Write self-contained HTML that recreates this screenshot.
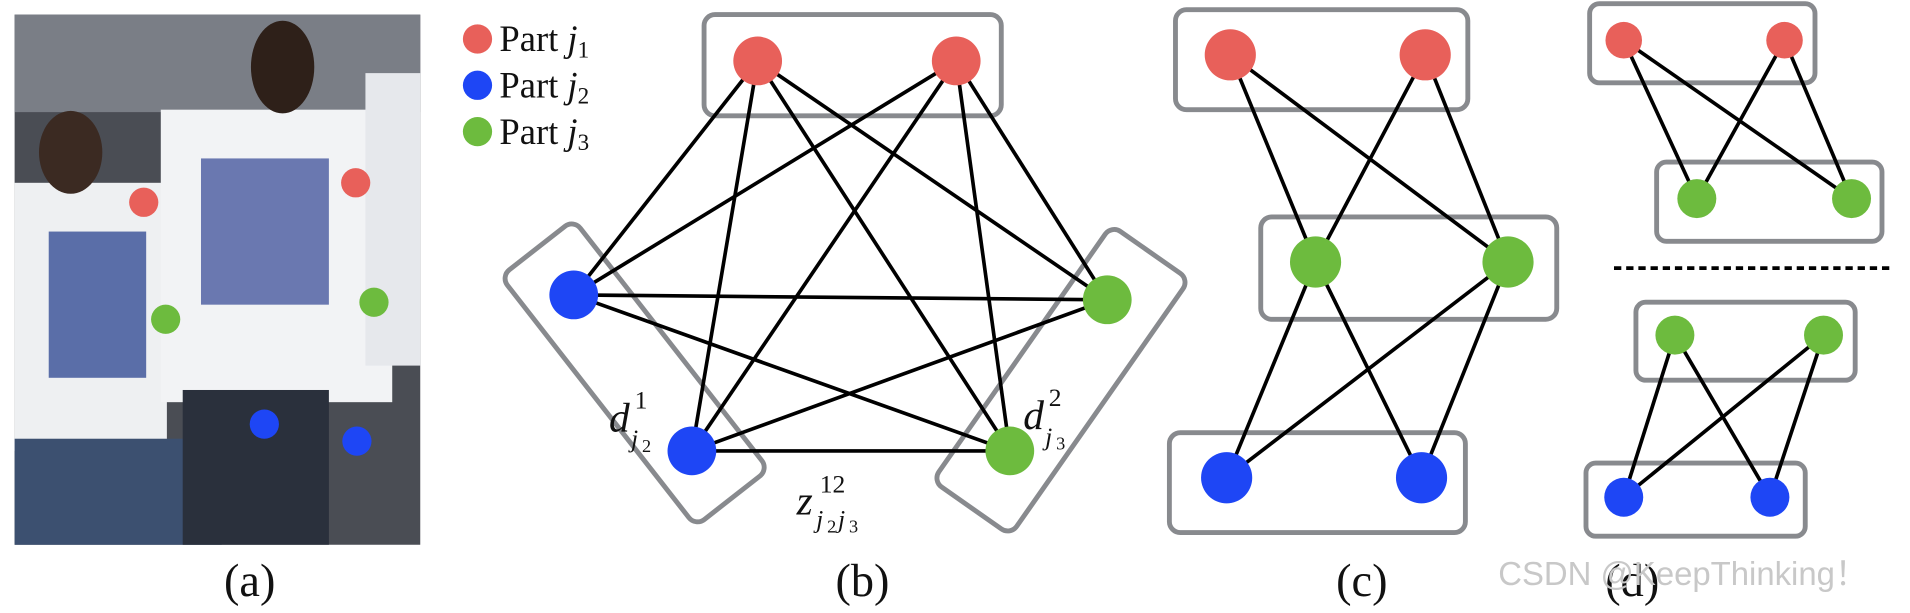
<!DOCTYPE html>
<html><head><meta charset="utf-8"><style>
html,body{margin:0;padding:0;background:#fff;}
svg{display:block;}
text{font-family:"Liberation Serif",serif;fill:#111;}
</style></head><body>
<svg width="1910" height="613" viewBox="0 0 1568 503" preserveAspectRatio="none" xmlns="http://www.w3.org/2000/svg">
<!-- photo -->
<rect x="12" y="12" width="333" height="435" fill="#4a4d54"/>
<rect x="12" y="12" width="333" height="80" fill="#7a7e86"/>
<rect x="12" y="150" width="125" height="220" fill="#eef0f2"/>
<rect x="132" y="90" width="190" height="240" fill="#f2f3f5"/>
<rect x="300" y="60" width="45" height="240" fill="#e6e8ec"/>
<rect x="40" y="190" width="80" height="120" fill="#5a6ea8"/>
<rect x="165" y="130" width="105" height="120" fill="#6a78b0"/>
<rect x="12" y="360" width="170" height="87" fill="#3c5070"/>
<rect x="150" y="320" width="120" height="127" fill="#2a303c"/>
<ellipse cx="58" cy="125" rx="26" ry="34" fill="#3b2a22"/>
<ellipse cx="232" cy="55" rx="26" ry="38" fill="#2e2019"/>
<circle cx="118" cy="166" r="12" fill="#e8605a"/>
<circle cx="292" cy="150" r="12" fill="#e8605a"/>
<circle cx="136" cy="262" r="12" fill="#6dbb3e"/>
<circle cx="307" cy="248" r="12" fill="#6dbb3e"/>
<circle cx="217" cy="348" r="12" fill="#1e46f5"/>
<circle cx="293" cy="362" r="12" fill="#1e46f5"/>
<!-- legend -->
<circle cx="392" cy="32" r="12" fill="#e8605a"/>
<circle cx="392" cy="70" r="12" fill="#1e46f5"/>
<circle cx="392" cy="108" r="12" fill="#6dbb3e"/>
<text x="410" y="42" font-size="30">Part <tspan font-style="italic">j</tspan><tspan font-size="19" dy="5">1</tspan></text>
<text x="410" y="80" font-size="30">Part <tspan font-style="italic">j</tspan><tspan font-size="19" dy="5">2</tspan></text>
<text x="410" y="118" font-size="30">Part <tspan font-style="italic">j</tspan><tspan font-size="19" dy="5">3</tspan></text>
<!-- (b) -->
<g fill="none" stroke="#888a8e" stroke-width="4">
<rect x="578" y="12" width="244" height="83" rx="9"/>
<rect x="-130" y="-38" width="260" height="76" rx="9" transform="translate(521,306) rotate(52)"/>
<rect x="-128" y="-39" width="256" height="78" rx="9" transform="translate(871,312) rotate(125)"/>
</g>
<g stroke="#000" stroke-width="3">
<line x1="622" y1="50" x2="471" y2="242"/><line x1="622" y1="50" x2="568" y2="370"/>
<line x1="622" y1="50" x2="909" y2="246"/><line x1="622" y1="50" x2="829" y2="370"/>
<line x1="785" y1="50" x2="471" y2="242"/><line x1="785" y1="50" x2="568" y2="370"/>
<line x1="785" y1="50" x2="909" y2="246"/><line x1="785" y1="50" x2="829" y2="370"/>
<line x1="471" y1="242" x2="909" y2="246"/><line x1="471" y1="242" x2="829" y2="370"/>
<line x1="568" y1="370" x2="909" y2="246"/><line x1="568" y1="370" x2="829" y2="370"/>
</g>
<circle cx="622" cy="50" r="20" fill="#e8605a"/><circle cx="785" cy="50" r="20" fill="#e8605a"/>
<circle cx="471" cy="242" r="20" fill="#1e46f5"/><circle cx="568" cy="370" r="20" fill="#1e46f5"/>
<circle cx="909" cy="246" r="20" fill="#6dbb3e"/><circle cx="829" cy="370" r="20" fill="#6dbb3e"/>
<text x="500" y="354" font-size="34" font-style="italic">d</text><text x="521" y="335" font-size="21">1</text><text x="518" y="367" font-size="21" font-style="italic">j</text><text x="527" y="371" font-size="15">2</text>
<text x="840" y="352" font-size="34" font-style="italic">d</text><text x="861" y="333" font-size="21">2</text><text x="858" y="365" font-size="21" font-style="italic">j</text><text x="867" y="369" font-size="15">3</text>
<text x="654" y="422" font-size="34" font-style="italic">z</text><text x="673" y="404" font-size="21">12</text><text x="670" y="433" font-size="21" font-style="italic">j</text><text x="679" y="437" font-size="15">2</text><text x="688" y="433" font-size="21" font-style="italic">j</text><text x="697" y="437" font-size="15">3</text>
<!-- (c) -->
<g fill="none" stroke="#888a8e" stroke-width="4">
<rect x="965" y="8" width="240" height="82" rx="9"/>
<rect x="1035" y="178" width="243" height="84" rx="9"/>
<rect x="960" y="355" width="243" height="82" rx="9"/>
</g>
<g stroke="#000" stroke-width="3">
<line x1="1010" y1="45" x2="1080" y2="215"/><line x1="1010" y1="45" x2="1238" y2="215"/>
<line x1="1170" y1="45" x2="1080" y2="215"/><line x1="1170" y1="45" x2="1238" y2="215"/>
<line x1="1080" y1="215" x2="1007" y2="392"/><line x1="1080" y1="215" x2="1167" y2="392"/>
<line x1="1238" y1="215" x2="1007" y2="392"/><line x1="1238" y1="215" x2="1167" y2="392"/>
</g>
<circle cx="1010" cy="45" r="21" fill="#e8605a"/><circle cx="1170" cy="45" r="21" fill="#e8605a"/>
<circle cx="1080" cy="215" r="21" fill="#6dbb3e"/><circle cx="1238" cy="215" r="21" fill="#6dbb3e"/>
<circle cx="1007" cy="392" r="21" fill="#1e46f5"/><circle cx="1167" cy="392" r="21" fill="#1e46f5"/>
<!-- (d) -->
<g fill="none" stroke="#888a8e" stroke-width="4">
<rect x="1305" y="3" width="185" height="65" rx="8"/>
<rect x="1360" y="133" width="185" height="65" rx="8"/>
<rect x="1343" y="248" width="180" height="64" rx="8"/>
<rect x="1302" y="380" width="180" height="60" rx="8"/>
</g>
<line x1="1325" y1="220" x2="1552" y2="220" stroke="#000" stroke-width="3" stroke-dasharray="6,4"/>
<g stroke="#000" stroke-width="3">
<line x1="1333" y1="33" x2="1393" y2="163"/><line x1="1333" y1="33" x2="1520" y2="163"/>
<line x1="1465" y1="33" x2="1393" y2="163"/><line x1="1465" y1="33" x2="1520" y2="163"/>
<line x1="1375" y1="275" x2="1333" y2="408"/><line x1="1375" y1="275" x2="1453" y2="408"/>
<line x1="1497" y1="275" x2="1333" y2="408"/><line x1="1497" y1="275" x2="1453" y2="408"/>
</g>
<circle cx="1333" cy="33" r="15" fill="#e8605a"/><circle cx="1465" cy="33" r="15" fill="#e8605a"/>
<circle cx="1393" cy="163" r="16" fill="#6dbb3e"/><circle cx="1520" cy="163" r="16" fill="#6dbb3e"/>
<circle cx="1375" cy="275" r="16" fill="#6dbb3e"/><circle cx="1497" cy="275" r="16" fill="#6dbb3e"/>
<circle cx="1333" cy="408" r="16" fill="#1e46f5"/><circle cx="1453" cy="408" r="16" fill="#1e46f5"/>
<!-- captions -->
<text x="205" y="489" font-size="38" text-anchor="middle">(a)</text>
<text x="708" y="489" font-size="38" text-anchor="middle">(b)</text>
<text x="1118" y="489" font-size="38" text-anchor="middle">(c)</text>
<text x="1340" y="489" font-size="38" text-anchor="middle">(d)</text>
<text x="1230" y="480" font-size="27" style="font-family:'Liberation Sans',sans-serif;fill:#c8c8c8">CSDN @KeepThinking！</text>
</svg>
</body></html>
